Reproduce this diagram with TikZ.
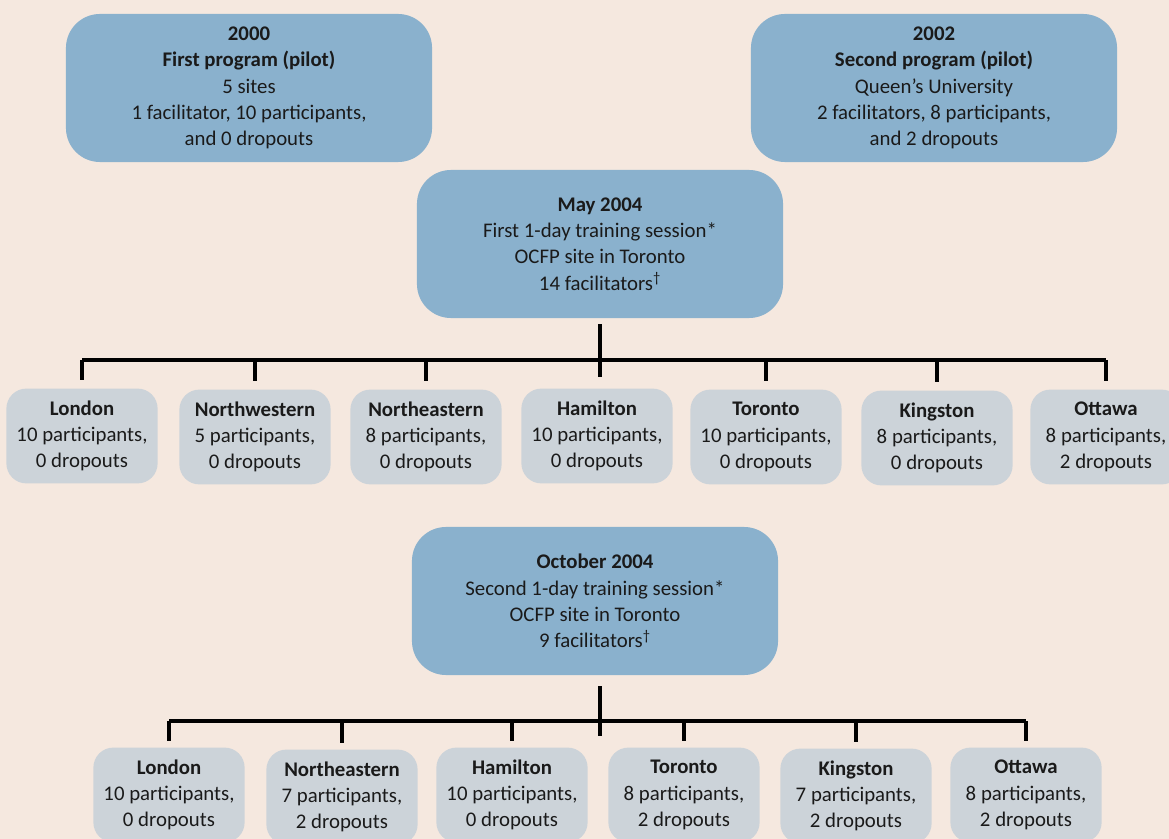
\documentclass[tikz,border=0pt]{standalone}
\usepackage{fontspec}
\setmainfont{Carlito}
\usepackage{xcolor}
\usepackage{tikz}
\definecolor{bgcol}{HTML}{F5E8DF}
\definecolor{bluebox}{HTML}{8AB1CD}
\definecolor{greybox}{HTML}{CCD3D9}
\definecolor{txt}{HTML}{1A1A1A}

\begin{document}
\begin{tikzpicture}[x=0.025cm,y=-0.025cm,
  session/.style={shape=rectangle,rounded corners=0.85cm,fill=bluebox,inner sep=0pt,
    minimum width=9.15cm,minimum height=3.7cm,align=center,text=txt,
    font=\fontsize{14.8}{18.7}\selectfont},
  site/.style={shape=rectangle,rounded corners=0.5cm,fill=greybox,inner sep=0pt,
    minimum width=3.78cm,minimum height=2.37cm,align=center,text=txt,
    font=\fontsize{14.8}{18.7}\selectfont},
  tree/.style={line width=2.5pt,draw=black}]
\useasboundingbox (0,0) rectangle (1169,839);
\clip (0,0) rectangle (1169,839);
\fill[bgcol] (0,0) rectangle (1169,839);
\node[session] (pilot1) at (249,88) {\textbf{2000}\\\textbf{First program (pilot)}\\5 sites\\1 facilitator, 10 participants,\\and 0 dropouts};
\node[session] (pilot2) at (934,88) {\textbf{2002}\\\textbf{Second program (pilot)}\\Queen’s University\\2 facilitators, 8 participants,\\and 2 dropouts};
\node[session] (may) at (600,244) {\textbf{May 2004}\\First 1-day training session*\\OCFP site in Toronto\\14 facilitators\textsuperscript{\textdagger}};
\node[session] (oct) at (595,601) {\textbf{October 2004}\\Second 1-day training session*\\OCFP site in Toronto\\9 facilitators\textsuperscript{\textdagger}};
% May 2004 sites
\node[site] (m1) at (82,436) {\textbf{London}\\10 participants,\\0 dropouts};
\node[site] (m2) at (255,437) {\textbf{Northwestern}\\5 participants,\\0 dropouts};
\node[site] (m3) at (426,437) {\textbf{Northeastern}\\8 participants,\\0 dropouts};
\node[site] (m4) at (597,436) {\textbf{Hamilton}\\10 participants,\\0 dropouts};
\node[site] (m5) at (766,437) {\textbf{Toronto}\\10 participants,\\0 dropouts};
\node[site] (m6) at (937,438) {\textbf{Kingston}\\8 participants,\\0 dropouts};
\node[site] (m7) at (1106,437) {\textbf{Ottawa}\\8 participants,\\2 dropouts};
% October 2004 sites
\node[site] (o1) at (169,795) {\textbf{London}\\10 participants,\\0 dropouts};
\node[site] (o2) at (342,797) {\textbf{Northeastern}\\7 participants,\\2 dropouts};
\node[site] (o3) at (512,795) {\textbf{Hamilton}\\10 participants,\\0 dropouts};
\node[site] (o4) at (684,795) {\textbf{Toronto}\\8 participants,\\2 dropouts};
\node[site] (o5) at (856,796) {\textbf{Kingston}\\7 participants,\\2 dropouts};
\node[site] (o6) at (1026,795) {\textbf{Ottawa}\\8 participants,\\2 dropouts};
% trees
\coordinate (mbus) at (600,360);
\coordinate (obus) at (600,721);
\draw[tree] ([yshift=-0.15cm]may.south) -- ([yshift=-0.425cm]may.south |- mbus);
\draw[tree] (mbus -| m1) -- (mbus -| m7);
\foreach \n in {m1,m2,m3,m5,m6,m7}
  \draw[tree] (mbus -| \n) -- ([yshift=0.2cm]\n.north);
\draw[tree] ([xshift=0.125cm,yshift=-0.275cm]oct.south) -- ([xshift=0.125cm,yshift=-0.375cm]oct.south |- obus);
\draw[tree] (obus -| o1) -- (obus -| o6);
\foreach \n in {o1,o2,o3,o4,o5,o6}
  \draw[tree] (obus -| \n) -- ([yshift=0.17cm]\n.north);
\end{tikzpicture}
\end{document}
